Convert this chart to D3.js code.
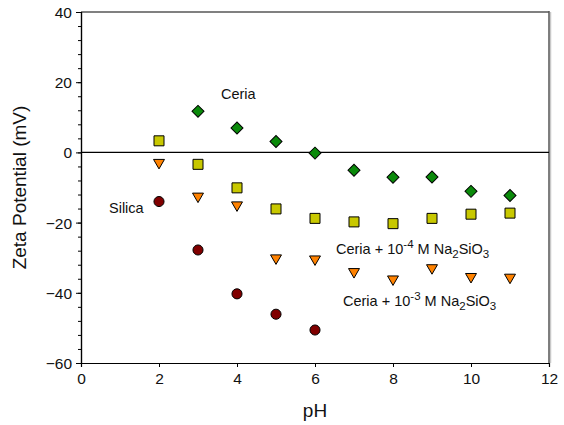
<!DOCTYPE html>
<html>
<head>
<meta charset="utf-8">
<script src="https://cdn.jsdelivr.net/npm/d3@7"></script>
<style>
  body { margin: 0; background: #fff; }
  svg { display: block; font-family: "Liberation Sans", Arial, sans-serif; }
</style>
</head>
<body>
<svg id="chart" width="564" height="425"></svg>
<script>
// pH values
const phCeria = [3, 4, 5, 6, 7, 8, 9, 10, 11];
const zetaCeria = [11.7, 6.95, 3.1, -0.2, -5.1, -7.1, -7.0, -11.1, -12.3];

const phCeria4 = [2, 3, 4, 5, 6, 7, 8, 9, 10, 11];
const zetaCeria4 = [3.3, -3.4, -10.1, -16.1, -18.8, -19.8, -20.3, -18.8, -17.6, -17.3];

const phCeria3 = [2, 3, 4, 5, 6, 7, 8, 9, 10, 11];
const zetaCeria3 = [-2.9, -12.5, -15.0, -30.1, -30.4, -34.0, -36.1, -32.9, -35.4, -35.6];

const phSilica = [2, 3, 4, 5, 6];
const zetaSilica = [-14.0, -27.8, -40.3, -46.1, -50.6];

const xTicks = [0, 2, 4, 6, 8, 10, 12];
const yTicks = [-60, -40, -20, 0, 20, 40];

const margin = { left: 81, right: 15, top: 12, bottom: 62 };
const width = 564, height = 425;

const svg = d3.select('#chart');

const x = d3.scaleLinear().domain([0, 12]).range([margin.left, width - margin.right]);
const y = d3.scaleLinear().domain([-60, 40]).range([height - margin.bottom, margin.top]);

// frame: top and right are grey
svg.append('line')
    .attr('x1', x(0)).attr('x2', x(12))
    .attr('y1', y(40)).attr('y2', y(40))
    .attr('stroke', '#808080').attr('stroke-width', 2);
svg.append('line')
    .attr('x1', x(12) + 1.5).attr('x2', x(12) + 1.5)
    .attr('y1', y(40)).attr('y2', y(-60))
    .attr('stroke', '#c8c8c8').attr('stroke-width', 1.5);
svg.append('line')
    .attr('x1', x(12)).attr('x2', x(12))
    .attr('y1', y(40) - 1).attr('y2', y(-60))
    .attr('stroke', '#555').attr('stroke-width', 1.5);

// zero line
svg.append('line')
    .attr('x1', x(0)).attr('x2', x(12))
    .attr('y1', y(0)).attr('y2', y(0))
    .attr('stroke', '#000').attr('stroke-width', 1.2);

// axes
const xAxis = svg.append('g')
    .attr('transform', `translate(0,${y(-60)})`)
    .call(d3.axisBottom(x).tickValues(xTicks).tickSize(4).tickPadding(6).tickFormat(d3.format('d')));
const yAxisMinor = svg.append('g')
    .attr('transform', `translate(${x(0)},0)`)
    .call(d3.axisLeft(y).tickValues(d3.range(-60, 41, 4)).tickSize(3).tickFormat(''));
const yAxis = svg.append('g')
    .attr('transform', `translate(${x(0)},0)`)
    .call(d3.axisLeft(y).tickValues(yTicks).tickSize(5).tickPadding(4).tickFormat(d3.format('d')));

[xAxis, yAxis, yAxisMinor].forEach(g => {
    g.select('.domain').attr('stroke', '#000').attr('stroke-width', 1.2);
    g.selectAll('.tick line').attr('stroke', '#000');
    g.selectAll('text').attr('font-size', 15.5).attr('fill', '#111')
        .attr('font-family', '"Liberation Sans", Arial, sans-serif');
});
yAxis.selectAll('text').attr('dy', '0.35em');

// axis titles
svg.append('text')
    .attr('x', (x(0) + x(12)) / 2).attr('y', 417)
    .attr('text-anchor', 'middle').attr('font-size', 19).attr('fill', '#111')
    .text('pH');
svg.append('text')
    .attr('transform', `translate(26,${(y(40) + y(-60)) / 2}) rotate(-90)`)
    .attr('text-anchor', 'middle').attr('font-size', 19).attr('fill', '#111')
    .text('Zeta Potential (mV)');

// markers
const series = [
    { ph: phCeria, zeta: zetaCeria, sym: d3.symbolSquare, size: 72, rot: 45, fill: '#0a8a0a' },
    { ph: phCeria4, zeta: zetaCeria4, sym: d3.symbolSquare, size: 100, rot: 0, fill: '#c8c800' },
    { ph: phCeria3, zeta: zetaCeria3, sym: d3.symbolTriangle, size: 52, rot: 180, fill: '#ff8200' },
    { ph: phSilica, zeta: zetaSilica, sym: d3.symbolCircle, size: 80, rot: 0, fill: '#800000' }
];

series.forEach(s => {
    const pts = s.ph.map((p, i) => [p, s.zeta[i]]);
    const path = d3.symbol().type(s.sym).size(s.size)();
    svg.append('g').selectAll('path')
        .data(pts)
        .join('path')
        .attr('d', path)
        .attr('transform', d => `translate(${x(d[0])},${y(d[1])}) rotate(${s.rot})`)
        .attr('fill', s.fill)
        .attr('stroke', '#000')
        .attr('stroke-width', 1);
});

// annotations
const note = svg.append('g').attr('font-size', 14.5).attr('fill', '#111');
note.append('text').attr('x', 221).attr('y', 99).text('Ceria');
note.append('text').attr('x', 109).attr('y', 213).text('Silica');

const t4 = note.append('text').attr('x', 336).attr('y', 254);
t4.append('tspan').text('Ceria + 10');
t4.append('tspan').attr('font-size', 11.5).attr('dy', -6).text('-4');
t4.append('tspan').attr('dy', 6).text(' M Na');
t4.append('tspan').attr('font-size', 11.5).attr('dy', 4).text('2');
t4.append('tspan').attr('dy', -4).text('SiO');
t4.append('tspan').attr('font-size', 11.5).attr('dy', 4).text('3');

const t3 = note.append('text').attr('x', 343).attr('y', 306);
t3.append('tspan').text('Ceria + 10');
t3.append('tspan').attr('font-size', 11.5).attr('dy', -6).text('-3');
t3.append('tspan').attr('dy', 6).text(' M Na');
t3.append('tspan').attr('font-size', 11.5).attr('dy', 4).text('2');
t3.append('tspan').attr('dy', -4).text('SiO');
t3.append('tspan').attr('font-size', 11.5).attr('dy', 4).text('3');
</script>
</body>
</html>
